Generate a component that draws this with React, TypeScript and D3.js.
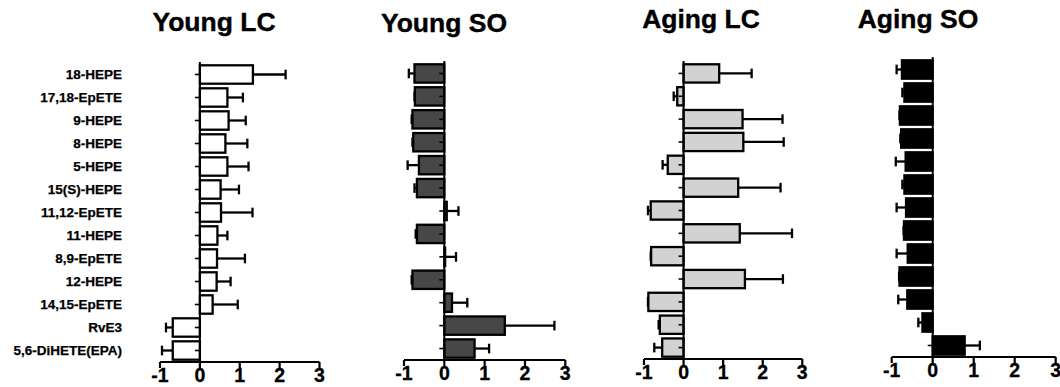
import React from 'react';
import * as d3 from 'd3';

// categories, top to bottom
const lipids = [
  '18-HEPE', '17,18-EpETE', '9-HEPE', '8-HEPE', '5-HEPE', '15(S)-HEPE',
  '11,12-EpETE', '11-HEPE', '8,9-EpETE', '12-HEPE', '14,15-EpETE', 'RvE3', '5,6-DiHETE(EPA)',
];

const xTicks = [-1, 0, 1, 2, 3];

const youngLcMean = [1.33, 0.69, 0.72, 0.64, 0.69, 0.52, 0.53, 0.44, 0.43, 0.42, 0.32, -0.68, -0.68];
const youngLcErr = [0.82, 0.39, 0.43, 0.55, 0.53, 0.46, 0.79, 0.25, 0.7, 0.35, 0.63, 0.17, 0.27];

const youngSoMean = [-0.74, -0.73, -0.79, -0.77, -0.63, -0.68, 0.06, -0.68, 0.02, -0.79, 0.19, 1.5, 0.75];
const youngSoErr = [0.14, 0.01, 0.02, 0.02, 0.28, 0.06, 0.29, 0.03, 0.27, 0.02, 0.38, 1.23, 0.36];

const agingLcMean = [0.9, -0.16, 1.49, 1.51, -0.4, 1.38, -0.83, 1.42, -0.82, 1.55, -0.89, -0.6, -0.54];
const agingLcErr = [0.82, 0.09, 1.01, 1.02, 0.13, 1.07, 0.07, 1.32, 0.01, 0.96, 0.01, 0.03, 0.2];

const agingSoMean = [-0.75, -0.69, -0.8, -0.77, -0.66, -0.69, -0.65, -0.7, -0.61, -0.81, -0.62, -0.25, 0.78];
const agingSoErr = [0.13, 0.05, 0.01, 0.02, 0.24, 0.05, 0.23, 0.01, 0.27, 0.01, 0.22, 0.1, 0.37];

const FONT = '"Liberation Sans", Arial, Helvetica, sans-serif';

// panel layout (pixel placement of each small chart)
const panels = [
  { title: 'Young LC', mean: youngLcMean, err: youngLcErr, fill: '#ffffff', x0: 160, x1: 319.5, top: 63, bottom: 362, titleX: 214, titleY: 31 },
  { title: 'Young SO', mean: youngSoMean, err: youngSoErr, fill: '#474747', x0: 404, x1: 565.3, top: 62, bottom: 360, titleX: 444, titleY: 32 },
  { title: 'Aging LC', mean: agingLcMean, err: agingLcErr, fill: '#d2d2d2', x0: 644, x1: 802.3, top: 62, bottom: 359, titleX: 701, titleY: 28 },
  { title: 'Aging SO', mean: agingSoMean, err: agingSoErr, fill: '#000000', x0: 891.7, x1: 1055.7, top: 58, bottom: 357, titleX: 918, titleY: 28 },
];

const SW = 2.3;

function Panel({ p, showLabels }) {
  const x = d3.scaleLinear().domain([-1, 3]).range([p.x0, p.x1]);
  const y = d3.scaleBand().domain(lipids).range([p.top, p.bottom]).padding(0);
  const step = y.bandwidth();
  const barH = step * 0.8;
  const capH = step * 0.42;
  const zero = x(0);

  return (
    <g>
      <text x={p.titleX} y={p.titleY} textAnchor="middle" fontFamily={FONT} fontWeight="bold" fontSize={26.5}
        stroke="#000" strokeWidth={0.4}>
        {p.title}
      </text>

      {lipids.map((name, i) => {
        const cy = y(name) + step / 2;
        const m = p.mean[i];
        const e = p.err[i];
        const xv = x(m);
        const xe = x(m >= 0 ? m + e : m - e);
        return (
          <g key={name}>
            <line x1={xv} x2={xe} y1={cy} y2={cy} stroke="#000" strokeWidth={SW} />
            <line x1={xe} x2={xe} y1={cy - capH / 2} y2={cy + capH / 2} stroke="#000" strokeWidth={SW} />
            <rect
              x={Math.min(xv, zero)}
              y={cy - barH / 2}
              width={Math.abs(xv - zero)}
              height={barH}
              fill={p.fill}
              stroke="#000"
              strokeWidth={SW}
            />
            <line x1={zero - 5} x2={zero} y1={cy} y2={cy} stroke="#000" strokeWidth={1.6} />
            {showLabels && (
              <text x={122} y={cy} dy="0.35em" textAnchor="end" fontFamily={FONT} fontWeight="bold" fontSize={13.5}
                stroke="#000" strokeWidth={0.25}>
                {name}
              </text>
            )}
          </g>
        );
      })}

      {/* y axis at zero */}
      <line x1={zero} x2={zero} y1={p.top - 1} y2={p.bottom} stroke="#000" strokeWidth={2} />

      {/* x axis */}
      <line x1={x(-1)} x2={x(3)} y1={p.bottom} y2={p.bottom} stroke="#000" strokeWidth={2.2} />
      {xTicks.map(t => (
        <g key={t}>
          <line x1={x(t)} x2={x(t)} y1={p.bottom} y2={p.bottom + 6} stroke="#000" strokeWidth={2.2} />
          <text x={x(t)} y={p.bottom + 20} textAnchor="middle" fontFamily={FONT} fontWeight="bold" fontSize={19.5}
            stroke="#000" strokeWidth={0.3}>
            {t}
          </text>
        </g>
      ))}
    </g>
  );
}

export default function App() {
  return (
    <svg
      width={1060}
      height={387}
      style={{ position: 'absolute', left: 0, top: 0, background: '#fff' }}
    >
      <rect width={1060} height={387} fill="#fff" />
      {panels.map((p, i) => (
        <Panel key={p.title} p={p} showLabels={i === 0} />
      ))}
    </svg>
  );
}
